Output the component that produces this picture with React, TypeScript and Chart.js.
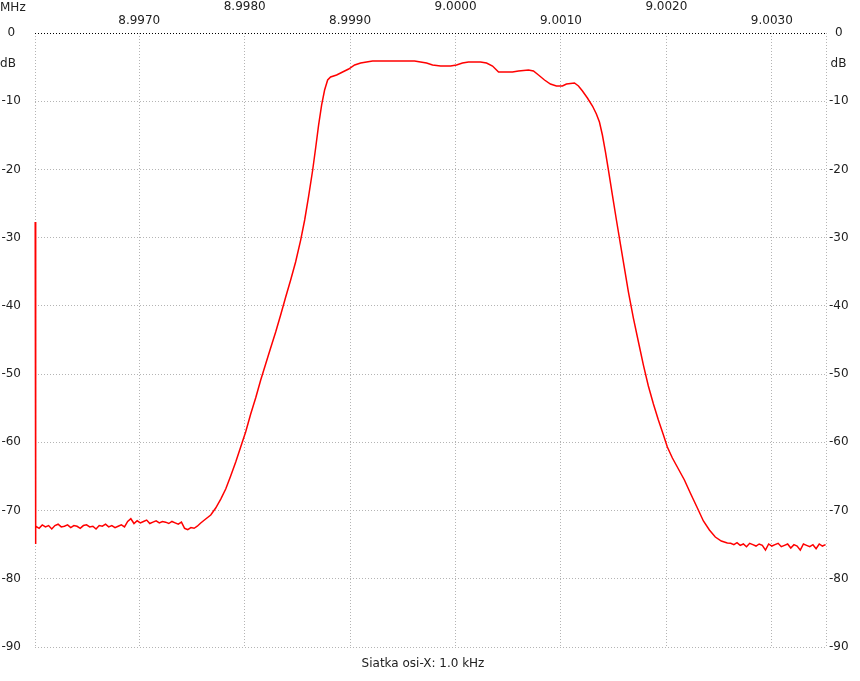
import React, { useEffect, useRef } from "react";
import { Chart, registerables } from "chart.js";

Chart.register(...registerables);

// X axis (MHz) range and labelled grid
const FREQ_MIN = 8.996011;
const FREQ_MAX = 9.003514;
const X_TICK_VALUES = [8.997, 8.998, 8.999, 9.0, 9.001, 9.002, 9.003];
const X_TICK_LABELS = ["8.9970", "8.9980", "8.9990", "9.0000", "9.0010", "9.0020", "9.0030"];

// Y axis (dB)
const DB_MIN = -90;
const DB_MAX = 0;
const DB_STEP = 10;

// start-of-sweep spike
const spikeFreq = [8.996013, 8.996015];
const spikeDb = [-27.7, -74.9];

// lower stopband (noisy floor)
const leftFreq = [
  8.99602, 8.99605, 8.99608, 8.99611, 8.99614, 8.99617, 8.9962, 8.99623, 8.99626, 8.99629,
  8.99632, 8.99635, 8.99638, 8.99641, 8.99644, 8.99647, 8.9965, 8.99653, 8.99656, 8.99659,
  8.99662, 8.99665, 8.99668, 8.99671, 8.99674, 8.99677, 8.9968, 8.99683, 8.99686,
  8.99689, 8.99692, 8.99695, 8.99698, 8.99701, 8.99704, 8.99707, 8.9971, 8.99713, 8.99716,
  8.99719, 8.99722, 8.99725, 8.99728, 8.99731, 8.99734, 8.99737, 8.9974,
  8.99743, 8.99746, 8.99749, 8.99752, 8.99755,
];
const leftDb = [
  -72.3, -72.6, -72.1, -72.4, -72.2, -72.7, -72.2, -72.0, -72.4, -72.3,
  -72.1, -72.5, -72.2, -72.3, -72.6, -72.2, -72.1, -72.4, -72.3, -72.7,
  -72.2, -72.3, -72.0, -72.4, -72.2, -72.5, -72.3, -72.1, -72.4,
  -71.6, -71.2, -71.9, -71.5, -71.8, -71.6, -71.4, -71.9, -71.7, -71.5,
  -71.8, -71.6, -71.7, -71.9, -71.6, -71.8, -72.0, -71.7,
  -72.6, -72.8, -72.5, -72.6, -72.3,
];

// filter response (skirts and passband)
const mainFreq = [
  8.997583, 8.99763, 8.997678, 8.997725, 8.997773, 8.99782, 8.997867, 8.997915, 8.997962, 8.998009,
  8.998057, 8.998104, 8.998152, 8.998199, 8.998246, 8.998294, 8.998341, 8.998389, 8.998436, 8.998483,
  8.998531, 8.998569, 8.998607, 8.998645, 8.998673, 8.998701, 8.99873, 8.998758, 8.998787, 8.998815,
  8.998872, 8.998929, 8.998986, 8.999043, 8.9991, 8.999156, 8.999213, 8.999384, 8.999611, 8.999668,
  8.999725, 8.999782, 8.999858, 8.999953, 9.000009, 9.000066, 9.000123, 9.000237, 9.000294, 9.000351,
  9.000408, 9.00054, 9.000597, 9.000692, 9.000739, 9.000787, 9.000844, 9.0009, 9.000957, 9.001014,
  9.001052, 9.001128, 9.001166, 9.001204, 9.001251, 9.001299, 9.001336, 9.001365, 9.001393, 9.001422,
  9.00145, 9.001488, 9.001526, 9.001564, 9.001602, 9.00164, 9.001687, 9.001735, 9.001782, 9.001829,
  9.001877, 9.001924, 9.001972, 9.002009, 9.002057, 9.002114, 9.002171, 9.002227, 9.002294, 9.002351,
  9.002408, 9.002464, 9.002521, 9.002578,
];
const mainDb = [
  -71.83, -71.24, -70.65, -69.63, -68.31, -66.84, -64.94, -62.89, -60.69, -58.49,
  -55.85, -53.5, -50.86, -48.52, -46.17, -43.83, -41.34, -38.7, -36.21, -33.57,
  -30.35, -27.41, -23.89, -20.08, -16.86, -13.49, -10.55, -8.36, -6.89, -6.45,
  -6.16, -5.72, -5.28, -4.69, -4.4, -4.25, -4.1, -4.1, -4.1, -4.25,
  -4.4, -4.69, -4.84, -4.84, -4.69, -4.4, -4.25, -4.25, -4.4, -4.84,
  -5.72, -5.72, -5.57, -5.42, -5.57, -6.16, -6.89, -7.48, -7.77, -7.77,
  -7.48, -7.33, -7.77, -8.5, -9.53, -10.7, -11.87, -13.05, -14.95, -17.44,
  -20.08, -23.75, -27.41, -30.93, -34.45, -37.97, -41.78, -45.29, -48.67, -51.74,
  -54.38, -56.73, -58.93, -60.69, -62.3, -63.91, -65.52, -67.43, -69.63, -71.53,
  -72.85, -73.88, -74.47, -74.76,
];

// upper stopband (noisy floor)
const rightFreq = [
  9.00261, 9.00264, 9.00267, 9.0027, 9.00273, 9.00276, 9.00279, 9.00282, 9.00285, 9.00288,
  9.00291, 9.00294, 9.00297, 9.003, 9.00303, 9.00306, 9.00309, 9.00312, 9.00315, 9.00318,
  9.00321, 9.00324, 9.00327, 9.0033, 9.00333, 9.00336, 9.00339, 9.00342, 9.00345, 9.00348, 9.00351,
];
const rightDb = [
  -74.8, -75.0, -74.7, -75.1, -74.9, -75.3, -74.8, -75.0, -75.2, -74.9,
  -75.1, -75.8, -74.9, -75.2, -75.0, -74.8, -75.3, -75.1, -74.9, -75.5,
  -75.0, -75.2, -75.8, -74.9, -75.1, -75.3, -75.0, -75.6, -74.9, -75.2, -75.0,
];

const FREQ_ALL = [...spikeFreq, ...leftFreq, ...mainFreq, ...rightFreq];
const DB_ALL = [...spikeDb, ...leftDb, ...mainDb, ...rightDb];

const FONT = "DejaVu Sans";
const TEXT_COLOR = "#222222";
const GRID_COLOR = "#b4b4b4";

const textPlugin = {
  id: "extraText",
  afterDraw(chart: any) {
    const ctx = chart.ctx;
    ctx.save();
    ctx.font = `12px "${FONT}"`;
    ctx.fillStyle = TEXT_COLOR;
    ctx.textBaseline = "middle";
    ctx.textAlign = "left";
    ctx.fillText("MHz", 0, 7.5);
    ctx.textAlign = "center";
    ctx.fillText("dB", 8, 63.5);
    ctx.fillText("dB", 838.5, 63.5);
    ctx.fillText("Siatka osi-X: 1.0 kHz", 423, 663.5);
    ctx.restore();
  },
};

export default function App() {
  const ref = useRef<HTMLCanvasElement | null>(null);

  useEffect(() => {
    if (!ref.current) return;
    const data = FREQ_ALL.map((f, i) => ({ x: f, y: DB_ALL[i] }));
    const chart = new Chart(ref.current, {
      type: "line",
      data: {
        datasets: [
          {
            data,
            borderColor: "#ff0000",
            borderWidth: 1.5,
            pointRadius: 0,
            tension: 0,
            fill: false,
            clip: 3,
          } as any,
        ],
      },
      options: {
        animation: false,
        responsive: false,
        maintainAspectRatio: false,
        parsing: false as any,
        layout: { padding: { left: 0, right: 0, top: 0, bottom: 34 } },
        plugins: {
          legend: { display: false },
          tooltip: { enabled: false },
          title: { display: false },
        },
        scales: {
          x: {
            type: "linear",
            position: "top",
            min: FREQ_MIN,
            max: FREQ_MAX,
            afterBuildTicks: (scale: any) => {
              scale.ticks = [FREQ_MIN, ...X_TICK_VALUES, FREQ_MAX].map((v) => ({ value: v }));
            },
            afterFit: (scale: any) => {
              scale.height = 33;
            },
            grid: {
              color: GRID_COLOR,
              lineWidth: 1,
              drawTicks: false,
            },
            border: { display: false, dash: [1, 2] },
            ticks: {
              autoSkip: false,
              maxRotation: 0,
              minRotation: 0,
              padding: 5,
              color: TEXT_COLOR,
              font: { family: FONT, size: 12 },
              callback: (value: any) => {
                const idx = X_TICK_VALUES.findIndex((t) => Math.abs(t - Number(value)) < 1e-7);
                if (idx < 0) return "";
                return idx % 2 === 1 ? [X_TICK_LABELS[idx], ""] : X_TICK_LABELS[idx];
              },
            },
          },
          y: {
            type: "linear",
            position: "left",
            min: DB_MIN,
            max: DB_MAX,
            afterFit: (scale: any) => {
              scale.width = 35;
            },
            grid: {
              color: (c: any) => (c.tick && c.tick.value === 0 ? "#000000" : GRID_COLOR),
              lineWidth: 1,
              drawTicks: false,
            },
            border: { display: false, dash: [1, 2] },
            ticks: {
              stepSize: DB_STEP,
              crossAlign: "center",
              padding: 14,
              color: TEXT_COLOR,
              font: { family: FONT, size: 12 },
            },
          },
          y2: {
            type: "linear",
            position: "right",
            min: DB_MIN,
            max: DB_MAX,
            afterFit: (scale: any) => {
              scale.width = 34;
            },
            grid: { display: false, drawTicks: false },
            border: { display: false },
            ticks: {
              stepSize: DB_STEP,
              crossAlign: "center",
              padding: 3,
              color: TEXT_COLOR,
              font: { family: FONT, size: 12 },
            },
          },
        },
      } as any,
      plugins: [textPlugin],
    });
    return () => chart.destroy();
  }, []);

  return (
    <div style={{ position: "absolute", left: 0, top: 0, width: 860, height: 681, background: "#ffffff" }}>
      <canvas ref={ref} width={860} height={681} style={{ display: "block", width: 860, height: 681 }} />
    </div>
  );
}
